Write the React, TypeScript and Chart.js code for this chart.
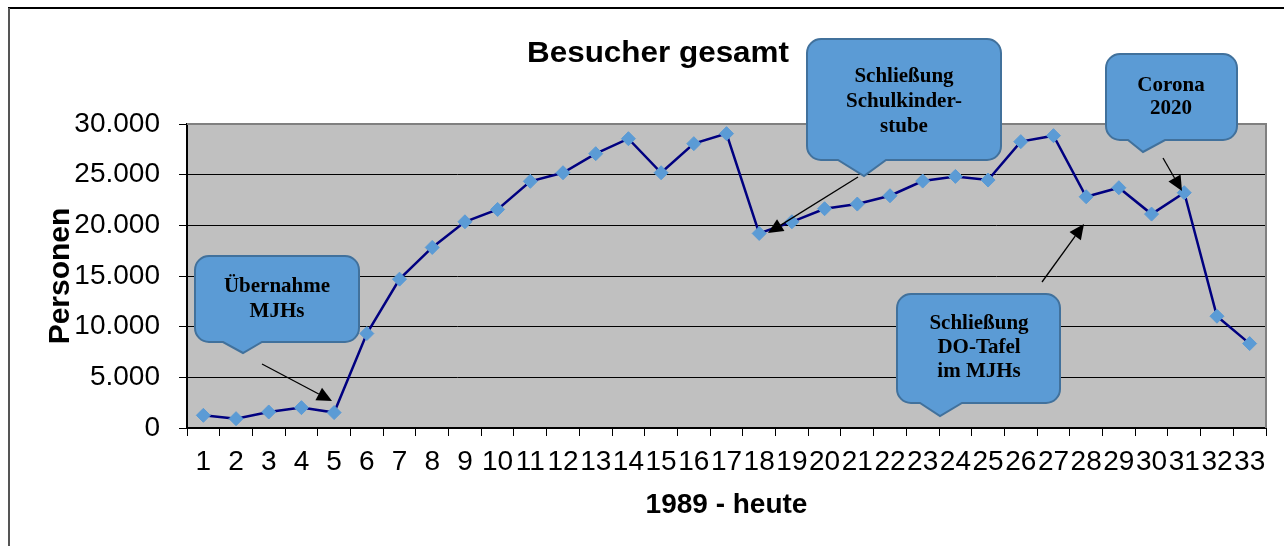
import React, { useEffect, useRef } from "react";
import { Chart, registerables } from "chart.js";

Chart.register(...registerables);

// ---------- data ----------
const categories: string[] = [
  "1", "2", "3", "4", "5", "6", "7", "8", "9", "10", "11",
  "12", "13", "14", "15", "16", "17", "18", "19", "20", "21", "22",
  "23", "24", "25", "26", "27", "28", "29", "30", "31", "32", "33",
];

const visitors: number[] = [
  1250, 920, 1580, 2010, 1520, 9320, 14690, 17820, 20350, 21570, 24340,
  25190, 27070, 28550, 25190, 28060, 29050, 19200, 20350, 21640, 22100, 22920,
  24370, 24830, 24470, 28260, 28850, 22820, 23710, 21110, 23220, 11030, 8330,
];

const yTickValues: number[] = [0, 5000, 10000, 15000, 20000, 25000, 30000];

const chartTitle = "Besucher gesamt";
const yAxisTitle = "Personen";
const xAxisTitle = "1989 - heute";

const calloutUebernahme: string[] = ["Übernahme", "MJHs"];
const calloutSchulkinderstube: string[] = ["Schließung", "Schulkinder-", "stube"];
const calloutCorona: string[] = ["Corona", "2020"];
const calloutTafel: string[] = ["Schließung", "DO-Tafel", "im MJHs"];

// ---------- layout / style (not data) ----------
const SANS = "'Liberation Sans', Arial, sans-serif";
const SERIF = "'Liberation Serif', 'Times New Roman', serif";

type Callout = {
  lines: string[];
  x: number; y: number; w: number; h: number;
  bl: number; br: number; tx: number; ty: number;
  cx: number; cy: number; lh: number;
};

const callouts: Callout[] = [
  { lines: calloutUebernahme, x: 195, y: 256, w: 164, h: 86, bl: 223, br: 262, tx: 243, ty: 353, cx: 277, cy: 287, lh: 25 },
  { lines: calloutSchulkinderstube, x: 807, y: 39, w: 194, h: 121, bl: 838, br: 886, tx: 864, ty: 176, cx: 904, cy: 77, lh: 25 },
  { lines: calloutCorona, x: 1106, y: 54, w: 131, h: 86, bl: 1128, br: 1165, tx: 1143, ty: 152, cx: 1171, cy: 86, lh: 23 },
  { lines: calloutTafel, x: 897, y: 294, w: 163, h: 109, bl: 920, br: 962, tx: 940, ty: 416, cx: 979, cy: 324, lh: 24 },
];

const arrows: [number, number, number, number][] = [
  [262, 364, 332, 401],
  [858, 177, 768, 233],
  [1163, 158, 1182, 191],
  [1042, 282, 1084, 224],
];

function fmt(v: number): string {
  return String(Math.round(v)).replace(/\B(?=(\d{3})+(?!\d))/g, ".");
}

function drawCallout(ctx: CanvasRenderingContext2D, c: Callout) {
  const r = 14;
  const { x, y, w, h } = c;
  ctx.save();
  ctx.beginPath();
  ctx.moveTo(x + r, y);
  ctx.lineTo(x + w - r, y);
  ctx.arcTo(x + w, y, x + w, y + r, r);
  ctx.lineTo(x + w, y + h - r);
  ctx.arcTo(x + w, y + h, x + w - r, y + h, r);
  ctx.lineTo(c.br, y + h);
  ctx.lineTo(c.tx, c.ty);
  ctx.lineTo(c.bl, y + h);
  ctx.lineTo(x + r, y + h);
  ctx.arcTo(x, y + h, x, y + h - r, r);
  ctx.lineTo(x, y + r);
  ctx.arcTo(x, y, x + r, y, r);
  ctx.closePath();
  ctx.fillStyle = "#5B9BD5";
  ctx.fill();
  ctx.lineWidth = 2;
  ctx.strokeStyle = "#41719C";
  ctx.stroke();
  ctx.fillStyle = "#000";
  ctx.font = `bold 21px ${SERIF}`;
  ctx.textAlign = "center";
  ctx.textBaseline = "middle";
  c.lines.forEach((t, i) => ctx.fillText(t, c.cx, c.cy + i * c.lh));
  ctx.restore();
}

function drawArrow(ctx: CanvasRenderingContext2D, a: [number, number, number, number]) {
  const [x1, y1, x2, y2] = a;
  const ang = Math.atan2(y2 - y1, x2 - x1);
  const len = 15;
  const hw = 7;
  const bx = x2 - len * Math.cos(ang);
  const by = y2 - len * Math.sin(ang);
  ctx.save();
  ctx.strokeStyle = "#000";
  ctx.lineWidth = 1.3;
  ctx.beginPath();
  ctx.moveTo(x1, y1);
  ctx.lineTo(bx, by);
  ctx.stroke();
  ctx.fillStyle = "#000";
  ctx.beginPath();
  ctx.moveTo(x2, y2);
  ctx.lineTo(bx + hw * Math.sin(ang), by - hw * Math.cos(ang));
  ctx.lineTo(bx - hw * Math.sin(ang), by + hw * Math.cos(ang));
  ctx.closePath();
  ctx.fill();
  ctx.restore();
}

const decorPlugin = {
  id: "decor",
  beforeDraw(chart: any) {
    const { ctx, chartArea: a } = chart;
    ctx.save();
    ctx.fillStyle = "#fff";
    ctx.fillRect(0, 0, chart.width, chart.height);
    ctx.fillStyle = "#C0C0C0";
    ctx.fillRect(a.left, a.top, a.right - a.left, a.bottom - a.top);
    // outer frame
    ctx.strokeStyle = "#000";
    ctx.lineWidth = 2;
    ctx.beginPath();
    ctx.moveTo(8, 8);
    ctx.lineTo(chart.width, 8);
    ctx.stroke();
    ctx.strokeStyle = "#555";
    ctx.beginPath();
    ctx.moveTo(9, 8);
    ctx.lineTo(9, chart.height);
    ctx.stroke();
    ctx.restore();
  },
  beforeDatasetsDraw(chart: any) {
    const { ctx, chartArea: a } = chart;
    ctx.save();
    ctx.strokeStyle = "#808080";
    ctx.lineWidth = 2;
    ctx.beginPath();
    ctx.moveTo(a.left, a.top);
    ctx.lineTo(a.right, a.top);
    ctx.lineTo(a.right, a.bottom);
    ctx.stroke();
    ctx.restore();
  },
  afterDraw(chart: any) {
    const { ctx } = chart;
    // title
    ctx.save();
    ctx.font = `bold 30px ${SANS}`;
    ctx.fillStyle = "#000";
    ctx.textAlign = "center";
    ctx.textBaseline = "alphabetic";
    const natural = ctx.measureText(chartTitle).width;
    const sx = 262 / natural;
    ctx.translate(658, 62);
    ctx.scale(sx, 1);
    ctx.fillText(chartTitle, 0, 0);
    ctx.restore();
    arrows.forEach((a) => drawArrow(ctx, a));
    callouts.forEach((c) => drawCallout(ctx, c));
  },
};

export default function App() {
  const ref = useRef<HTMLCanvasElement | null>(null);
  useEffect(() => {
    const canvas = ref.current;
    if (!canvas) return;
    const chart = new Chart(canvas, {
      type: "line",
      data: {
        labels: categories,
        datasets: [
          {
            data: visitors,
            borderColor: "#000080",
            borderWidth: 2.5,
            pointStyle: "rectRot",
            pointRadius: 7,
            pointBackgroundColor: "#5B9BD5",
            pointBorderColor: "#5B9BD5",
            pointBorderWidth: 1,
            tension: 0,
            clip: false,
          } as any,
        ],
      },
      options: {
        animation: false,
        responsive: false,
        devicePixelRatio: 1,
        events: [],
        layout: { padding: { left: 0, top: 124, right: 18, bottom: 0 } },
        plugins: {
          legend: { display: false },
          title: { display: false },
          tooltip: { enabled: false },
        },
        scales: {
          x: {
            type: "category",
            offset: true,
            grid: {
              display: true,
              drawOnChartArea: false,
              drawTicks: true,
              tickLength: 8,
              color: "#000",
              lineWidth: 1,
              offset: true,
            },
            border: { display: true, color: "#000", width: 2 },
            ticks: {
              autoSkip: false,
              maxRotation: 0,
              minRotation: 0,
              padding: 9,
              color: "#000",
              font: { family: SANS, size: 28 },
            },
            title: {
              display: true,
              text: xAxisTitle,
              color: "#000",
              font: { family: SANS, size: 28, weight: "bold" },
              padding: { top: 0, bottom: 24 },
            },
            afterFit: (s: any) => {
              s.height = 118;
            },
          } as any,
          y: {
            min: 0,
            max: 30000,
            afterBuildTicks: (s: any) => {
              s.ticks = yTickValues.map((v) => ({ value: v }));
            },
            grid: {
              color: "#000",
              lineWidth: 1,
              drawTicks: true,
              tickLength: 8,
            },
            border: { display: true, color: "#000", width: 2 },
            ticks: {
              padding: 19,
              color: "#000",
              font: { family: SANS, size: 28 },
              callback: (v: any) => fmt(Number(v)),
            },
            title: {
              display: true,
              text: yAxisTitle,
              color: "#000",
              font: { family: SANS, size: 30, weight: "bold" },
              padding: { top: 43, bottom: 0 },
            },
            afterFit: (s: any) => {
              s.width = 187;
            },
          } as any,
        },
      },
      plugins: [decorPlugin],
    });
    return () => chart.destroy();
  }, []);
  return (
    <div style={{ position: "fixed", left: 0, top: 0, width: 1284, height: 546, background: "#fff" }}>
      <canvas ref={ref} width={1284} height={546} style={{ display: "block", width: 1284, height: 546 }} />
    </div>
  );
}
